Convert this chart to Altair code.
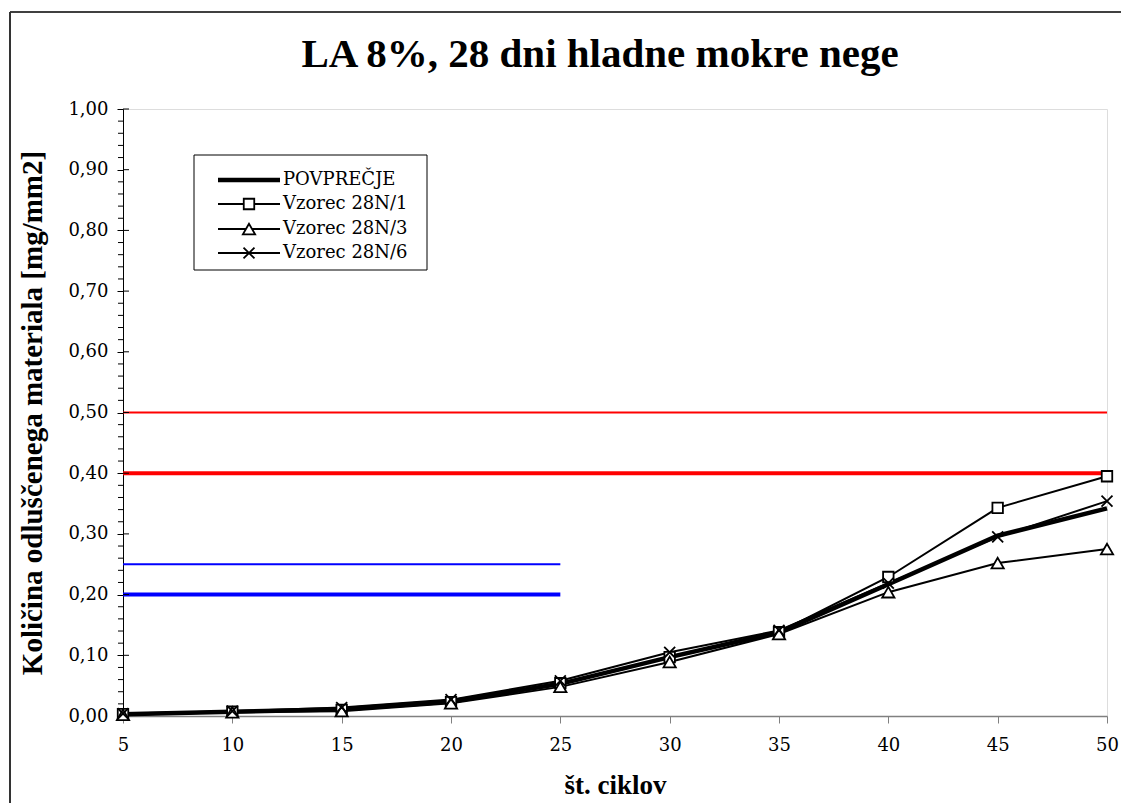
import altair as alt
import pandas as pd

# ---------------- data ----------------
cycles = [5, 10, 15, 20, 25, 30, 35, 40, 45, 50]
avg = [0.003, 0.007, 0.011, 0.024, 0.053, 0.097, 0.138, 0.217, 0.297, 0.342]
s1 = [0.003, 0.007, 0.010, 0.023, 0.054, 0.097, 0.138, 0.229, 0.343, 0.395]
s3 = [0.002, 0.006, 0.008, 0.021, 0.048, 0.089, 0.135, 0.204, 0.252, 0.275]
s6 = [0.004, 0.008, 0.014, 0.027, 0.058, 0.105, 0.141, 0.219, 0.295, 0.354]
series_names = ["POVPREČJE", "Vzorec 28N/1", "Vzorec 28N/3", "Vzorec 28N/6"]

ref_y = [0.50, 0.40, 0.25, 0.20]
ref_x1 = [5, 5, 5, 5]
ref_x2 = [50, 50, 25, 25]
ref_color = ["#ff0000", "#ff0000", "#0000ff", "#0000ff"]
ref_width = [2, 4, 2, 4]

y_major = [0.0, 0.1, 0.2, 0.3, 0.4, 0.5, 0.6, 0.7, 0.8, 0.9, 1.0]
y_minor = [round(i * 0.02, 2) for i in range(1, 50) if i % 5 != 0]
x_ticks = cycles

title_text = "LA 8%, 28 dni hladne mokre nege"
x_title = "št. ciklov"
y_title = "Količina odluščenega materiala [mg/mm2]"

# ---------------- tables ----------------
rows = []
for name, vals in zip(series_names, [avg, s1, s3, s6]):
    for c, v in zip(cycles, vals):
        rows.append({"cycles": c, "value": v, "series": name})
df = pd.DataFrame(rows)
ref_df = pd.DataFrame({"y": ref_y, "x1": ref_x1, "x2": ref_x2,
                       "color": ref_color, "w": ref_width})
minor_df = pd.DataFrame({"y": y_minor})
major_df = pd.DataFrame({"y": y_major})

W, H = 984, 607
SERIF = "Liberation Serif"
LABEL_FONT = "DejaVu Serif"

xscale = alt.Scale(domain=[5, 50], nice=False, zero=False)
yscale = alt.Scale(domain=[0, 1], nice=False, zero=True)

xaxis = alt.Axis(values=x_ticks, title=x_title, grid=False,
                 labelFont=LABEL_FONT, labelFontSize=18, labelColor="black",
                 titleFont=SERIF, titleFontSize=27, titleFontWeight="bold",
                 titleColor="black", tickSize=7, tickColor="#808080",
                 domainColor="#808080", domainWidth=1.5, labelPadding=13,
                 titlePadding=18, labelFlush=False)
yaxis = alt.Axis(values=y_major, title=y_title, grid=False,
                 labelExpr="replace(format(datum.value, '.2f'), '.', ',')",
                 labelFont=LABEL_FONT, labelFontSize=18, labelColor="black",
                 titleFont=SERIF, titleFontSize=29, titleFontWeight="bold",
                 titleColor="black", tickSize=6, tickColor="black",
                 domainColor="black", domainWidth=1, labelPadding=9,
                 titlePadding=20)


def X(field):
    return alt.X(field, type="quantitative", scale=xscale, axis=xaxis)


def Y(field):
    return alt.Y(field, type="quantitative", scale=yscale, axis=yaxis)


# reference lines
refs = alt.Chart(ref_df).mark_rule().encode(
    x=X("x1"), x2="x2", y=Y("y"),
    color=alt.Color("color:N", scale=None),
    strokeWidth=alt.StrokeWidth("w:Q", scale=None),
)

# minor / major ticks on y axis
minor = alt.Chart(minor_df).mark_rule(color="black", strokeWidth=1).encode(
    y=Y("y"), x=alt.value(-5), x2=alt.value(0))
major_in = alt.Chart(major_df).mark_rule(color="black", strokeWidth=1).encode(
    y=Y("y"), x=alt.value(0), x2=alt.value(6))

samples = df[df.series != "POVPREČJE"]
avg_df = df[df.series == "POVPREČJE"]

sample_lines = alt.Chart(samples).mark_line(color="black", strokeWidth=2).encode(
    x=X("cycles"), y=Y("value"), detail="series:N")
avg_line = alt.Chart(avg_df).mark_line(color="black", strokeWidth=4.5).encode(
    x=X("cycles"), y=Y("value"))

X_PATH = "M-1,-1L1,1M-1,1L1,-1"
marker_style = {
    "Vzorec 28N/1": dict(shape="square", size=110, fill="white"),
    "Vzorec 28N/3": dict(shape="triangle-up", size=150, fill="white"),
    "Vzorec 28N/6": dict(shape=X_PATH, size=120, fill=None),
}


def marker_mark(chart, name):
    st = marker_style[name]
    kw = dict(shape=st["shape"], size=st["size"], filled=False,
              stroke="black", strokeWidth=1.8, opacity=1)
    if st["fill"]:
        kw["fill"] = st["fill"]
    return chart.mark_point(**kw)


point_layers = [
    marker_mark(alt.Chart(df[df.series == n]), n).encode(
        x=X("cycles"), y=Y("value"))
    for n in series_names[1:]
]

# ---------------- legend (drawn box) ----------------
LEG_X0, LEG_X1, LEG_Y0, LEG_Y1 = 71, 304, 46, 161
row_y = [71, 95, 120, 144]
line_x0, line_x1, mark_x, text_x = 95, 157, 126, 160
one = pd.DataFrame({"k": [0]})

legend_layers = [
    alt.Chart(one).mark_rect(fill="white", stroke="black", strokeWidth=1).encode(
        x=alt.value(LEG_X0), x2=alt.value(LEG_X1),
        y=alt.value(LEG_Y0), y2=alt.value(LEG_Y1))
]
for i, name in enumerate(series_names):
    lw = 4.5 if i == 0 else 2
    legend_layers.append(
        alt.Chart(one).mark_rule(color="black", strokeWidth=lw).encode(
            x=alt.value(line_x0), x2=alt.value(line_x1), y=alt.value(row_y[i])))
    if i > 0:
        legend_layers.append(
            marker_mark(alt.Chart(one), name).encode(
                x=alt.value(mark_x), y=alt.value(row_y[i])))
    legend_layers.append(
        alt.Chart(pd.DataFrame({"label": [name]})).mark_text(
            align="left", baseline="middle", font=LABEL_FONT, fontSize=18,
            color="black").encode(
            x=alt.value(text_x), y=alt.value(row_y[i]), text="label:N"))

# outer frame (only top and left edges visible in the reference)
frame_top = alt.Chart(one).mark_rule(color="black", strokeWidth=1.5).encode(
    x=alt.value(-113), x2=alt.value(1100), y=alt.value(-97))
frame_left = alt.Chart(one).mark_rule(color="#333333", strokeWidth=2).encode(
    x=alt.value(-113), y=alt.value(-97), y2=alt.value(800))

chart = alt.layer(
    refs, minor, major_in, sample_lines, avg_line, *point_layers,
    *legend_layers, frame_top, frame_left,
).properties(
    width=W, height=H,
    title=alt.TitleParams(title_text, font=SERIF, fontSize=41,
                          fontWeight="bold", color="black", anchor="middle",
                          frame="group", offset=-65, dx=-15),
    autosize=alt.AutoSizeParams(type="none"),
    padding={"left": 115, "top": 101, "right": 14, "bottom": 87},
).configure_view(stroke=None).configure(background="white")

chart.save("out.html", embed_options={"renderer": "svg", "actions": False})
